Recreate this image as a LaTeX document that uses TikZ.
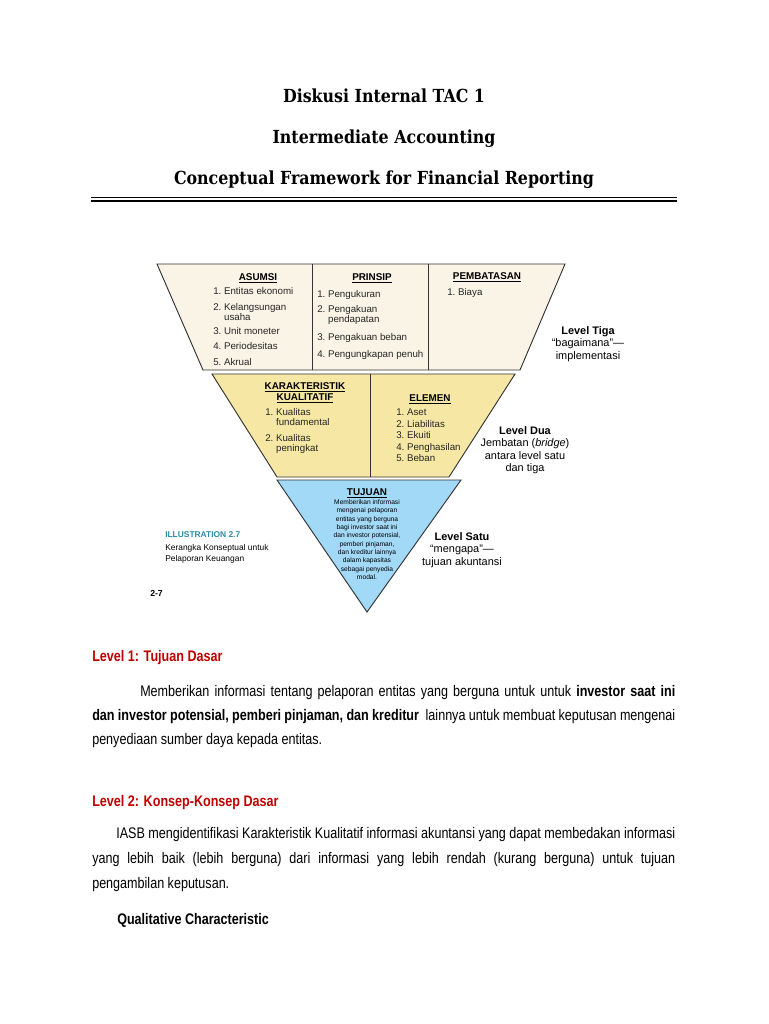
\documentclass[tikz,border=0pt]{standalone}
\usepackage{fontspec}
\setmainfont{Liberation Sans}
\newfontfamily\titlefont[FakeStretch=0.88]{DejaVu Serif}
\newfontfamily\narrowfont[FakeStretch=0.82]{Liberation Sans}
\definecolor{creamfill}{HTML}{FAF4E6}
\definecolor{yellowfill}{HTML}{F6E8A4}
\definecolor{bluefill}{HTML}{A2D9F6}
\definecolor{headred}{HTML}{C00000}
\definecolor{tealtxt}{HTML}{2A8BA6}

\begin{document}
\begin{tikzpicture}[x=0.75pt, y=-0.75pt,
    band/.style={draw=black!80, line width=0.7pt, line join=miter},
    hdr/.style={font=\fontsize{7.4}{8}\selectfont\bfseries, anchor=base, inner sep=0pt},
    item/.style={font=\fontsize{7.3}{8}\selectfont, anchor=base west, inner sep=0pt, text=black!85},
    lvl/.style={font=\fontsize{8.2}{9.3}\selectfont, align=center, inner sep=0pt},
    ttl/.style={font=\titlefont\bfseries\fontsize{13.5}{15}\selectfont, anchor=base, inner sep=0pt},
    head/.style={font=\narrowfont\bfseries\fontsize{11.5}{14}\selectfont, text=headred, anchor=base west, inner sep=0pt},
    bodyln/.style={font=\narrowfont\fontsize{11.5}{14}\selectfont, anchor=base west, inner sep=0pt}
]
\fill[white] (0,0) rectangle (768,1024);
\useasboundingbox (0,0) rectangle (768,1024);

% Title
\node[ttl] (t1) at (384,103) {Diskusi Internal TAC 1};
\node[ttl] (t2) at (384,143) {Intermediate Accounting};
\node[ttl] (t3) at (384,184) {Conceptual Framework for Financial Reporting};
\draw[line width=0.9pt] (91,197.5) -- (677,197.5);
\draw[line width=1.4pt] (91,201) -- (677,201);

% Bands
\draw[band, fill=creamfill] (157,264) -- (565,264) -- (520,370) -- (203,370) -- cycle;
\draw[band] (312,264) -- (312,370);
\draw[band] (428,264) -- (428,370);
\draw[band, fill=yellowfill] (212,374) -- (515,374) -- (449,477) -- (277,477) -- cycle;
\draw[band] (370,374) -- (370,477);
\draw[band, fill=bluefill] (277,480) -- (461,480) -- (367,612) -- cycle;

% Level tiga
\node[hdr] (hAsumsi) at (258,280) {\underline{ASUMSI}};
\foreach \y/\t [count=\i] in {294/{1.\ Entitas ekonomi}, 310/{2.\ Kelangsungan},
    320/{\phantom{2.\ }usaha}, 334/{3.\ Unit moneter}, 349/{4.\ Periodesitas}, 365/{5.\ Akrual}}
    \node[item] (as\i) at (213,\y) {\t};
\node[hdr] (hPrinsip) at (372,280) {\underline{PRINSIP}};
\foreach \y/\t [count=\i] in {297/{1.\ Pengukuran}, 312/{2.\ Pengakuan},
    322/{\phantom{2.\ }pendapatan}, 340/{3.\ Pengakuan beban}, 357/{4.\ Pengungkapan penuh}}
    \node[item] (pr\i) at (317,\y) {\t};
\node[hdr] (hBatas) at (487,279) {\underline{PEMBATASAN}};
\node[item] (ba1) at (447,295) {1.\ Biaya};
\node[lvl] (lTiga) at (588,344) {\textbf{Level Tiga}\\``bagaimana''---\\implementasi};

% Level dua
\node[hdr] (hKar1) at (305,389) {\underline{KARAKTERISTIK}};
\node[hdr] (hKar2) at (305,400) {\underline{KUALITATIF}};
\foreach \y/\t [count=\i] in {415/{1.\ Kualitas}, 425/{\phantom{1.\ }fundamental},
    441/{2.\ Kualitas}, 451/{\phantom{2.\ }peningkat}}
    \node[item] (ka\i) at (265,\y) {\t};
\node[hdr] (hElemen) at (430,401) {\underline{ELEMEN}};
\foreach \y/\t [count=\i] in {415/{1.\ Aset}, 427/{2.\ Liabilitas}, 438/{3.\ Ekuiti},
    450/{4.\ Penghasilan}, 461/{5.\ Beban}}
    \node[item] (el\i) at (396,\y) {\t};
\node[lvl] (lDua) at (525,450) {\textbf{Level Dua}\\Jembatan (\textit{bridge})\\antara level satu\\dan tiga};

% Level satu
\node[hdr] (hTujuan) at (367,495) {\underline{TUJUAN}};
\node[font=\fontsize{5}{6.25}\selectfont, align=center, inner sep=0pt] (tujDesc) at (367,539.5)
    {Memberikan informasi\\mengenai pelaporan\\entitas yang berguna\\bagi investor saat ini\\dan investor potensial,\\pemberi pinjaman,\\dan kreditur lainnya\\dalam kapasitas\\sebagai penyedia\\modal.};
\node[lvl] (lSatu) at (462,550) {\textbf{Level Satu}\\``mengapa''---\\tujuan akuntansi};

% Caption
\node[anchor=base west, inner sep=0pt, font=\fontsize{6.3}{7}\selectfont\bfseries, text=tealtxt] (ill) at (165,537) {ILLUSTRATION 2.7};
\node[anchor=base west, inner sep=0pt, font=\fontsize{6.3}{7}\selectfont] (ill2) at (165,550) {Kerangka Konseptual untuk};
\node[anchor=base west, inner sep=0pt, font=\fontsize{6.3}{7}\selectfont] (ill3) at (165,561) {Pelaporan Keuangan};
\node[anchor=base west, inner sep=0pt, font=\fontsize{6.5}{7}\selectfont\bfseries] (pg) at (150,596) {2-7};

% Body text
\node[head] (lv1) at (92,661) {Level 1: Tujuan Dasar};
\node[bodyln] (p1a) at (140,696) {\makebox[401.25pt][s]{Memberikan informasi tentang pelaporan entitas yang berguna untuk untuk \textbf{investor saat ini}}};
\node[bodyln] (p1b) at (92,720) {\makebox[437.25pt][s]{\textbf{dan investor potensial, pemberi pinjaman, dan kreditur}\ \ lainnya untuk membuat keputusan mengenai}};
\node[bodyln] (p1c) at (92,744) {penyediaan sumber daya kepada entitas.};
\node[head] (lv2) at (92,806) {Level 2: Konsep-Konsep Dasar};
\node[bodyln] (p2a) at (116,838) {\makebox[419.25pt][s]{IASB mengidentifikasi Karakteristik Kualitatif informasi akuntansi yang dapat membedakan informasi}};
\node[bodyln] (p2b) at (92,863) {\makebox[437.25pt][s]{yang lebih baik (lebih berguna) dari informasi yang lebih rendah (kurang berguna) untuk tujuan}};
\node[bodyln] (p2c) at (92,888) {pengambilan keputusan.};
\node[bodyln, font=\narrowfont\bfseries\fontsize{11.5}{14}\selectfont] (qc) at (117,924) {Qualitative Characteristic};
\end{tikzpicture}
\end{document}
